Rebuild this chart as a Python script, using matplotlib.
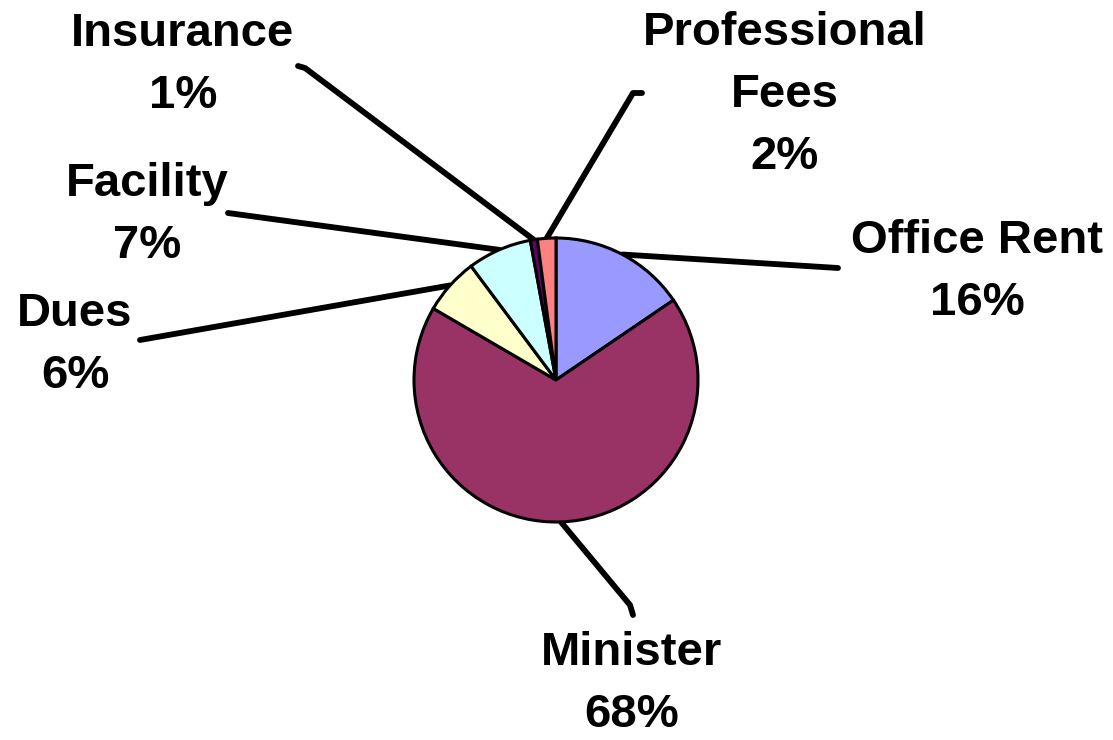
import numpy as np
import matplotlib
matplotlib.use("Agg")
import matplotlib.pyplot as plt

# data (clockwise from 12 o'clock)
labels = ['Office Rent', 'Minister', 'Dues', 'Facility', 'Insurance', 'Professional\nFees']
values = [15.5, 67.9, 6.4, 7.3, 0.8, 2.1]
colors = ['#9999FF', '#993366', '#FFFFCC', '#CCFFFF', '#660066', '#FF8080']

W, H = 1113, 740
cx, cy, r = 556, H - 380, 142

# label centres and leader-line elbows, in pixels from top-left
text_pos = [(977, 272), (632, 684), (75, 345), (147, 215), (183, 65), (785, 95)]
line_end = [[(838, 268)],
            [(630, 605), (633, 615)],
            [(140, 340)],
            [(228, 213)],
            [(305, 68), (298, 66)],
            [(633, 93), (642, 93)]]

plt.rcParams['font.family'] = ['Liberation Sans', 'DejaVu Sans']

fig = plt.figure(figsize=(W / 100, H / 100), dpi=100)
ax = fig.add_axes([0, 0, 1, 1])
wedges, _ = ax.pie(values, colors=colors, startangle=90, counterclock=False,
                   center=(cx, cy), radius=r,
                   wedgeprops=dict(edgecolor='black', linewidth=2.2))
ax.set_xlim(0, W)
ax.set_ylim(0, H)
ax.set_aspect('equal')
ax.axis('off')

total = sum(values)
for w, lab, v, tp, le in zip(wedges, labels, values, text_pos, line_end):
    mid = np.deg2rad((w.theta1 + w.theta2) / 2)
    xs = [cx + r * np.cos(mid)] + [p[0] for p in le]
    ys = [cy + r * np.sin(mid)] + [H - p[1] for p in le]
    ax.plot(xs, ys, color='black', lw=4.2, solid_capstyle='round', zorder=0)
    ax.text(tp[0], H - tp[1], '%s\n%d%%' % (lab, round(v / total * 100)),
            ha='center', va='center', fontsize=34, fontweight='bold',
            linespacing=1.53)

fig.savefig('out.png', dpi=100)
